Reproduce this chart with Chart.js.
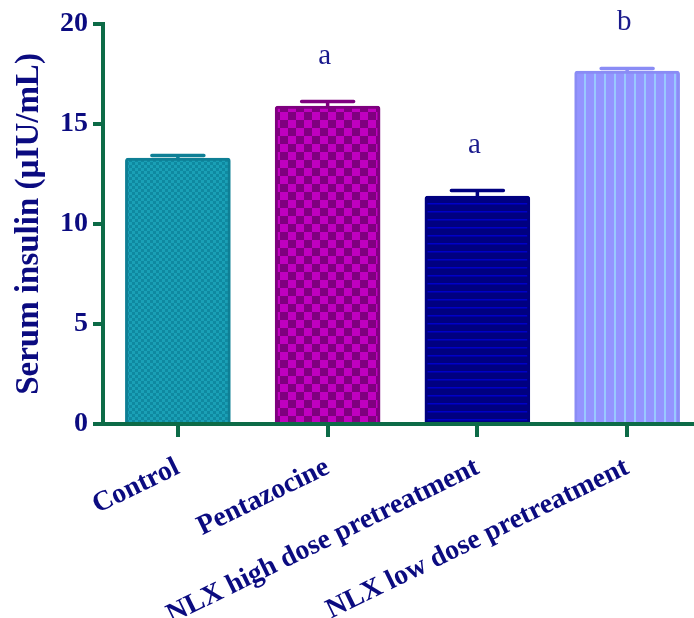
<!DOCTYPE html>
<html><head><meta charset="utf-8">
<script src="https://cdn.jsdelivr.net/npm/chart.js@4.4.1/dist/chart.umd.min.js"></script>
<style>html,body{margin:0;padding:0;background:#fff;overflow:hidden;}</style>
</head><body>
<canvas id="c" width="702" height="618"></canvas>
<script>
const categories = ['Control', 'Pentazocine', 'NLX high dose pretreatment', 'NLX low dose pretreatment'];
const insulinMean = [13.3, 15.9, 11.4, 17.65];
const insulinSEM = [0.13, 0.22, 0.27, 0.13];
const significance = ['', 'a', 'a', 'b'];
const yTickValues = [0, 5, 10, 15, 20];

const NAVY = '#0b0b80';
const GREEN = '#0d6b47';
const FONT = '"Liberation Serif", "Times New Roman", serif';

function makePattern(w, h, draw) {
  const c = document.createElement('canvas');
  c.width = w; c.height = h;
  const g = c.getContext('2d');
  draw(g);
  return document.getElementById('c').getContext('2d').createPattern(c, 'repeat');
}
const fills = [
  makePattern(6, 6, g => { g.fillStyle = '#1aa0b6'; g.fillRect(0,0,6,6); g.fillStyle = '#0f89a0'; g.fillRect(0,0,3,3); g.fillRect(3,3,3,3); }),
  makePattern(16, 16, g => { g.fillStyle = '#c000c0'; g.fillRect(0,0,16,16); g.fillStyle = '#7f007f'; g.fillRect(0,0,8,8); g.fillRect(8,8,8,8); }),
  makePattern(8, 8, g => { g.fillStyle = '#000080'; g.fillRect(0,0,8,8); g.fillStyle = '#0000c8'; g.fillRect(0,3,8,1.5); }),
  makePattern(10, 10, g => { g.fillStyle = '#9494ff'; g.fillRect(0,0,10,10); g.fillStyle = '#99c8ff'; g.fillRect(4,0,2,10); })
];
const borders = ['#0e7f95', '#7f007f', '#000080', '#8a8cf5'];

const annotPlugin = {
  id: 'errAndLetters',
  afterDatasetsDraw(chart) {
    const { ctx, scales: { y } } = chart;
    const meta = chart.getDatasetMeta(0);
    ctx.save();
    meta.data.forEach((bar, i) => {
      const xc = bar.x;
      const yBar = y.getPixelForValue(insulinMean[i]);
      const yTop = y.getPixelForValue(insulinMean[i] + insulinSEM[i]);
      ctx.strokeStyle = borders[i];
      ctx.lineWidth = 3.5;
      ctx.lineCap = 'round';
      ctx.beginPath();
      ctx.moveTo(xc, yBar); ctx.lineTo(xc, yTop);
      ctx.moveTo(xc - 26, yTop); ctx.lineTo(xc + 26, yTop);
      ctx.stroke();
      if (significance[i]) {
        ctx.font = '29px ' + FONT;
        ctx.fillStyle = '#1a1a8c';
        ctx.textAlign = 'center';
        ctx.textBaseline = 'alphabetic';
        ctx.fillText(significance[i], xc - 3, yTop - 38);
      }
    });
    ctx.restore();
  }
};

new Chart(document.getElementById('c'), {
  type: 'bar',
  data: {
    labels: categories,
    datasets: [{
      data: insulinMean,
      backgroundColor: fills,
      borderColor: borders,
      borderWidth: 3,
      borderRadius: 3,
      borderSkipped: 'bottom',
      barThickness: 105
    }]
  },
  options: {
    responsive: false,
    devicePixelRatio: 1,
    animation: false,
    layout: { padding: { left: 8, top: 24, right: 0, bottom: 0 } },
    plugins: { legend: { display: false }, tooltip: { enabled: false } },
    scales: {
      y: {
        min: 0, max: 20,
        afterBuildTicks: s => { s.ticks = yTickValues.map(v => ({ value: v })); },
        afterFit: s => { s.width = 95; },
        ticks: { color: NAVY, font: { family: FONT, size: 28, weight: 'bold' }, padding: 5 },
        grid: { drawOnChartArea: false, color: GREEN, tickColor: GREEN, tickLength: 10, tickWidth: 4, lineWidth: 4 },
        border: { color: GREEN, width: 4 },
        title: { display: true, text: 'Serum insulin (µIU/mL)', color: NAVY, font: { family: FONT, size: 33, weight: 'bold' }, padding: { top: 2, bottom: 0 } }
      },
      x: {
        offset: true,
        afterFit: s => { s.height = 194; },
        ticks: { color: NAVY, font: { family: FONT, size: 28, weight: 'bold' }, minRotation: 26, maxRotation: 26, padding: 14, autoSkip: false },
        grid: { offset: false, drawOnChartArea: false, color: GREEN, tickColor: GREEN, tickLength: 13, tickWidth: 4, lineWidth: 4 },
        border: { color: GREEN, width: 4 }
      }
    }
  },
  plugins: [annotPlugin]
});
</script>
</body></html>
